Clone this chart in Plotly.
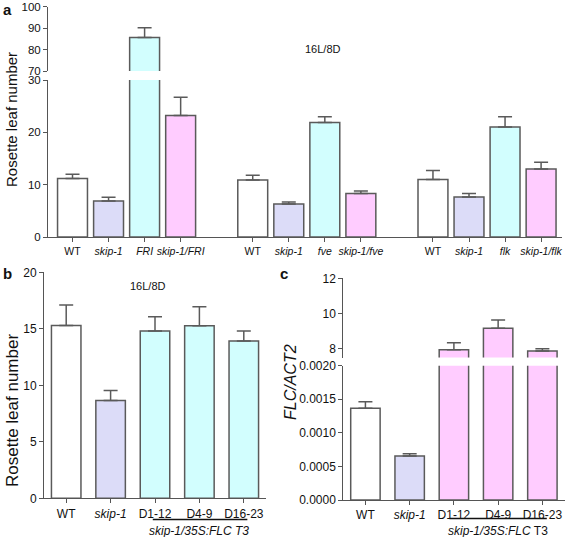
import plotly.graph_objects as go

# ---------------- data ----------------
a_labels = ["WT", "skip-1", "FRI", "skip-1/FRI",
            "WT", "skip-1", "fve", "skip-1/fve",
            "WT", "skip-1", "flk", "skip-1/flk"]
a_values = [11.2, 6.9, 85.6, 23.2,
            10.9, 6.3, 21.9, 8.3,
            11.0, 7.65, 21.0, 13.0]
a_errors = [0.8, 0.7, 4.5, 3.5,
            0.9, 0.4, 1.1, 0.5,
            1.7, 0.65, 2.0, 1.3]

b_labels = ["WT", "skip-1", "D1-12", "D4-9", "D16-23"]
b_values = [15.3, 8.66, 14.8, 15.26, 13.93]
b_errors = [1.8, 0.89, 1.26, 1.69, 0.87]

c_labels = ["WT", "skip-1", "D1-12", "D4-9", "D16-23"]
c_values = [0.001365, 0.000655, 7.94, 9.16, 7.87]
c_errors = [0.0001, 0.000034, 0.40, 0.47, 0.13]

a_bottom_ticks = [0, 10, 20, 30]
a_top_ticks = [70, 80, 90, 100]
b_ticks = [0, 5, 10, 15, 20]
c_bottom_ticks = [0, 0.0005, 0.0010, 0.0015, 0.0020]
c_top_ticks = [8, 10, 12]

# ---------------- style ----------------
W, H = 567, 537
WHITE = "#FFFFFF"
LAV = "#DCDCF8"
CYAN = "#D2FEFE"
PINK = "#FFCCFF"
EDGE = "#5A5A5A"
AXC = "#555555"
FONT = "Arial, Liberation Sans, sans-serif"

a_colors = [WHITE, LAV, CYAN, PINK] * 3
b_colors = [WHITE, LAV, CYAN, CYAN, CYAN]
c_colors = [WHITE, LAV, PINK, PINK, PINK]

a_pos = [i + i // 4 for i in range(len(a_labels))]
b_pos = list(range(len(b_labels)))
c_pos = list(range(len(c_labels)))


def fmt(lbl):
    return lbl if lbl.startswith("WT") or lbl.startswith("D") else "<i>%s</i>" % lbl


def px(x):
    return x / W


def py(y):
    return 1 - y / H


def bar(x, y, err, colors, xa, ya, width):
    return go.Bar(
        x=x, y=y, xaxis=xa, yaxis=ya, width=width,
        marker=dict(color=colors, line=dict(color=EDGE, width=1.5)),
        error_y=dict(type="data", array=err, arrayminus=[0] * len(err),
                     symmetric=False, color=EDGE, thickness=1.5, width=7),
        showlegend=False, hoverinfo="skip",
    )


fig = go.Figure()
fig.add_trace(bar(a_pos, a_values, a_errors, a_colors, "x", "y", 0.83))
fig.add_trace(bar(a_pos, a_values, a_errors, a_colors, "x2", "y2", 0.83))
fig.add_trace(bar(b_pos, b_values, b_errors, b_colors, "x3", "y3", 0.665))
fig.add_trace(bar(c_pos, c_values, c_errors, c_colors, "x4", "y4", 0.665))
fig.add_trace(bar(c_pos, c_values, c_errors, c_colors, "x5", "y5", 0.665))

axis_common = dict(showline=True, linecolor=AXC, linewidth=1, ticks="outside",
                   ticklen=4, tickcolor=AXC, tickwidth=1, showgrid=False,
                   zeroline=False, automargin=False, ticklabeloverflow="allow",
                   tickfont=dict(family=FONT, size=12, color="#111"))
a_tickfont = dict(family=FONT, size=11.5, color="#111")

fig.update_layout(
    width=W, height=H, margin=dict(l=0, r=0, t=0, b=0, autoexpand=False),
    paper_bgcolor="white", plot_bgcolor="white", barmode="overlay",
    font=dict(family=FONT, color="#111"),
    # panel a
    xaxis=dict(axis_common, domain=[px(48), px(562)], range=[-0.68, 13.58], anchor="y",
               tickvals=a_pos, ticktext=[fmt(l) for l in a_labels],
               tickfont=dict(family=FONT, size=10.5, color="#111")),
    yaxis=dict(axis_common, domain=[py(237), py(80)], range=[0, 30], anchor="x",
               tickvals=a_bottom_ticks, tickfont=a_tickfont),
    xaxis2=dict(matches="x", domain=[px(48), px(562)], anchor="y2", visible=False,
                automargin=False),
    yaxis2=dict(axis_common, domain=[py(71), py(6.5)], range=[70, 100], anchor="x2",
                tickvals=a_top_ticks, tickfont=a_tickfont),
    # panel b
    xaxis3=dict(axis_common, domain=[px(44), px(266)], range=[-0.5, 4.5], anchor="y3",
                tickvals=b_pos, ticktext=[fmt(l) for l in b_labels]),
    yaxis3=dict(axis_common, domain=[py(498.3), py(272.3)], range=[0, 20], anchor="x3",
                tickvals=b_ticks),
    # panel c
    xaxis4=dict(axis_common, domain=[px(343.3), px(564.5)], range=[-0.5, 4.5], anchor="y4",
                tickvals=c_pos, ticktext=[fmt(l) for l in c_labels]),
    yaxis4=dict(axis_common, domain=[py(500), py(365.7)], range=[0, 0.002], anchor="x4",
                tickvals=c_bottom_ticks, tickformat=".4f"),
    xaxis5=dict(matches="x4", domain=[px(343.3), px(564.5)], anchor="y5", visible=False,
                automargin=False),
    yaxis5=dict(axis_common, domain=[py(357.5), py(278.3)], range=[7.5, 12], anchor="x5",
                tickvals=c_top_ticks),
)

ann = []


def text(x, y, s, size=12, angle=0, xref="paper"):
    ann.append(dict(x=x, y=y, xref=xref, yref="paper", text=s, showarrow=False,
                    textangle=angle, xanchor="center", yanchor="middle",
                    font=dict(family=FONT, size=size, color="#111")))


# panel letters
text(px(7), py(9), "<b>a</b>", size=15)
text(px(7), py(273), "<b>b</b>", size=15)
text(px(284), py(273), "<b>c</b>", size=15)
# y titles
text(px(12), py(120), "Rosette leaf number", size=15, angle=-90)
text(px(12), py(411), "Rosette leaf number", size=17, angle=-90)
text(px(290), py(382), "<i>FLC/ACT2</i>", size=16, angle=-90)
# conditions
text(px(323), py(49), "16L/8D", size=11)
text(px(148), py(286), "16L/8D", size=11)
# transgenic group labels
text(3, py(531), "<i>skip-1/35S:FLC T3</i>", size=12, xref="x3")
text(3, py(531), "<i>skip-1/35S:FLC</i> T3", size=12, xref="x4")
fig.update_layout(annotations=ann)

fig.add_shape(type="line", xref="x3", yref="paper", x0=1.95, x1=4.08,
              y0=py(519.5), y1=py(519.5), line=dict(color="#111", width=1.5))
fig.add_shape(type="line", xref="x4", yref="paper", x0=1.9, x1=4.1,
              y0=py(518.5), y1=py(518.5), line=dict(color="#111", width=1.5))

fig.write_html("out.html", config={"displayModeBar": False})

# remove the default page margin so the figure sits at the window's top-left corner
with open("out.html", "r", encoding="utf-8") as f:
    html = f.read()
html = html.replace("<head>", "<head><style>html,body{margin:0;padding:0;overflow:hidden;}</style>", 1)
with open("out.html", "w", encoding="utf-8") as f:
    f.write(html)
